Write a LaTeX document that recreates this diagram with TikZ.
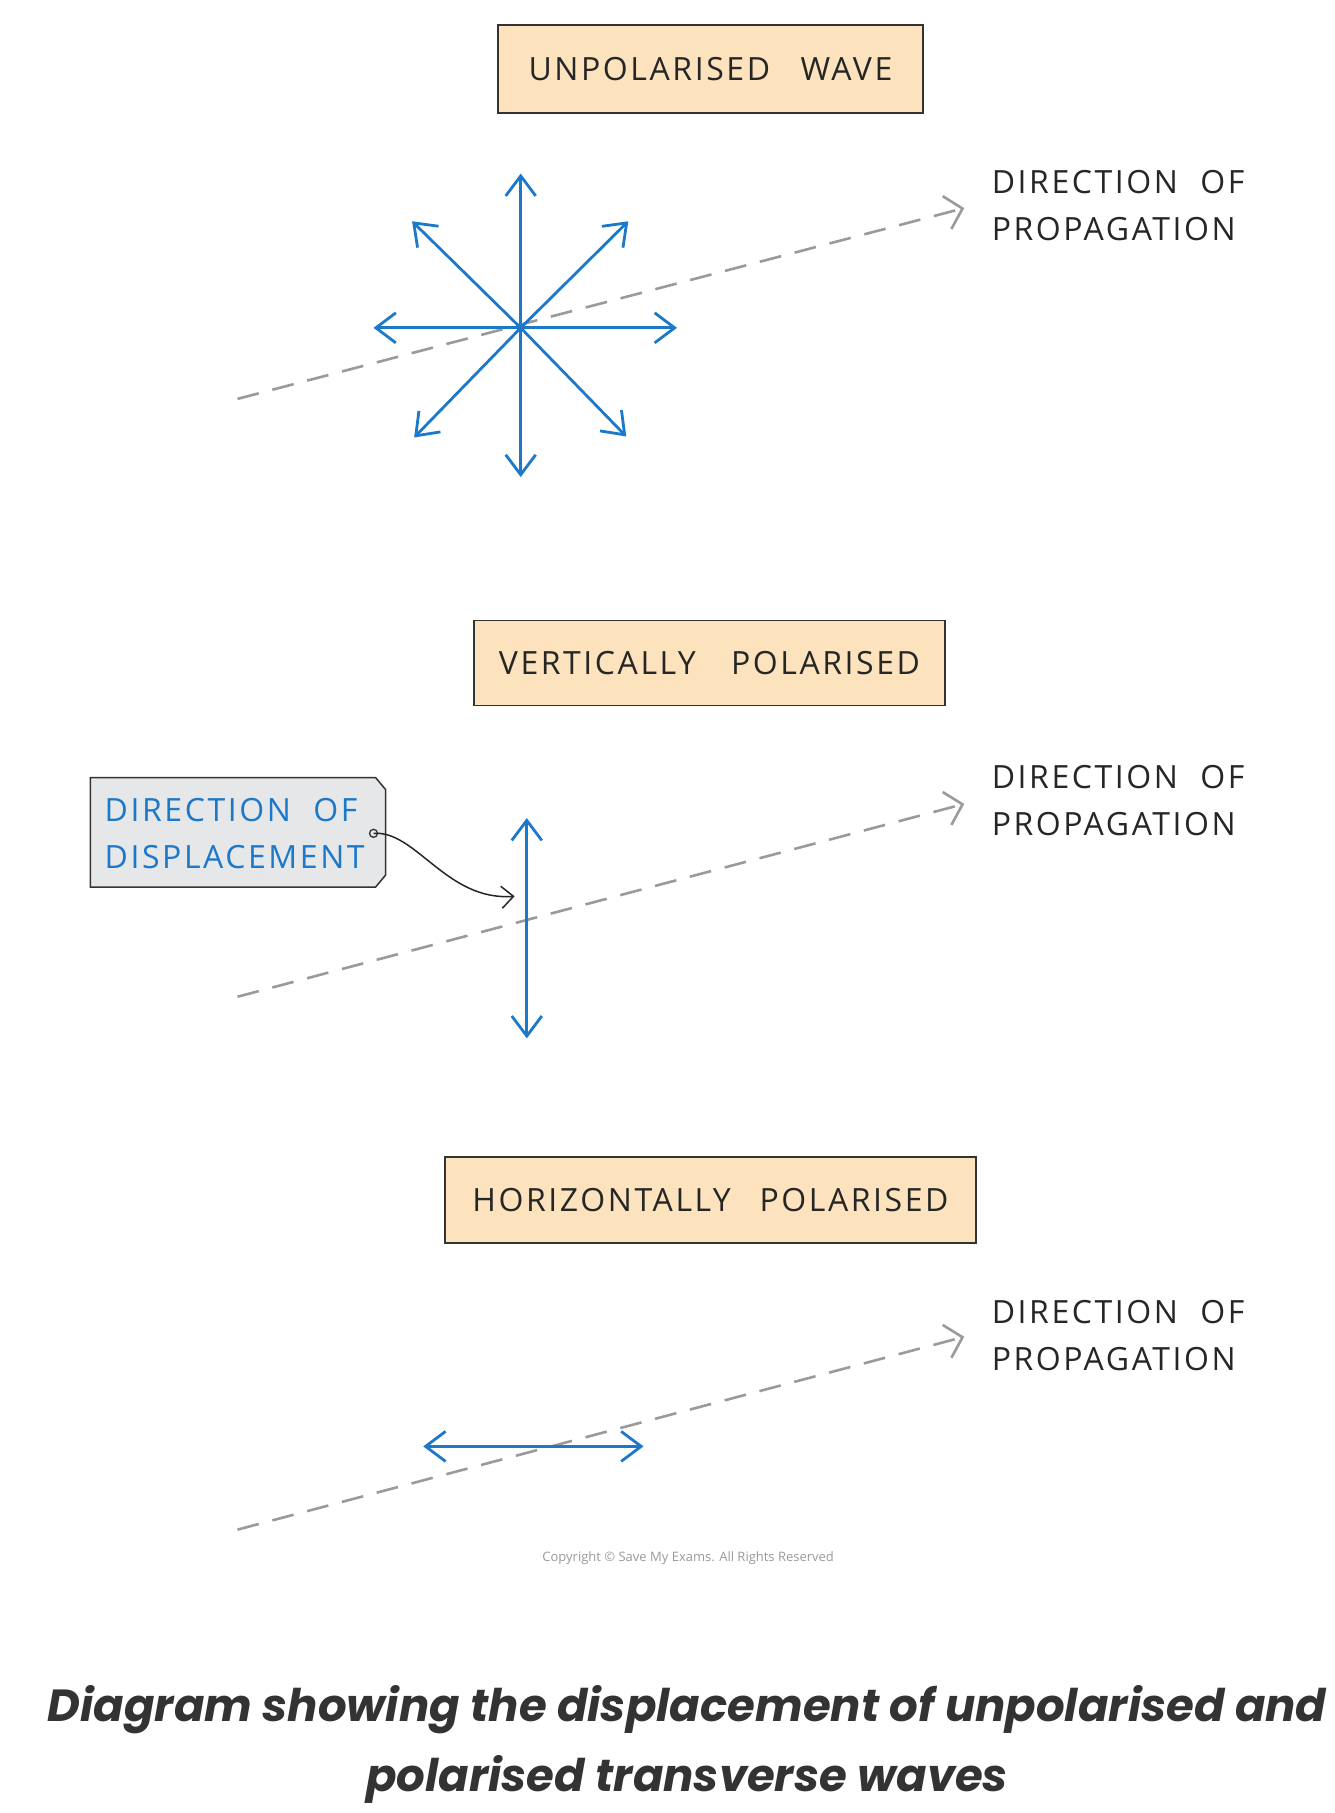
\documentclass[tikz,border=0pt]{standalone}
\usepackage{fontspec}
\usetikzlibrary{arrows.meta}
\newfontfamily\labfont{Open Sans}[LetterSpace=8]
\newfontfamily\copyfont{Open Sans}
\newfontfamily\capfont{Poppins}
\definecolor{peach}{HTML}{FCE3BE}
\definecolor{myblue}{HTML}{1C78C8}
\definecolor{dashgrey}{HTML}{9A9A9A}
\definecolor{taggrey}{HTML}{E6E7E8}
\definecolor{capgrey}{HTML}{333333}
\tikzset{
  titlebox/.style={draw=black!80, line width=1.6pt, fill=peach, font=\labfont\fontsize{32}{36}\selectfont, inner sep=0pt, text=black!85},
  proplabel/.style={font=\labfont\fontsize{32}{47}\selectfont, align=left, anchor=north west, inner sep=0pt, text=black!85},
  proparrow/.style={dashgrey, line width=2.6pt, dash pattern=on 22pt off 14pt, -{Straight Barb[length=16pt,width=34pt,line width=2.6pt]}},
  disparrow/.style={myblue, line width=2.8pt, {Straight Barb[length=20pt,width=30pt]}-{Straight Barb[length=20pt,width=30pt]}},
  halfarrow/.style={myblue, line width=2.8pt, -{Straight Barb[length=20pt,width=30pt]}}
}
\begin{document}
\begin{tikzpicture}[x=1.015pt,y=-1.015pt]
\useasboundingbox (0,0) rectangle (1314.3,1786.2);

% ---------- panel 1 ----------
\node[titlebox, minimum width=425pt, minimum height=88pt] (t1) at (700,68) {UNPOLARISED\hspace{0.95em}WAVE};
\coordinate (p1s) at (234,393);
\coordinate (p1e) at (950,205);
\draw[proparrow] (p1s) -- (p1e);
\node[proplabel] (l1) at (977,168) {DIRECTION\hspace{0.7em}OF\\PROPAGATION};
\coordinate (c1) at (513,323);
\coordinate (n1) at (513,171);
\coordinate (s1) at (513,470);
\coordinate (e1) at (667,323);
\coordinate (w1) at (368,323);
\coordinate (ne1) at (619,218);
\coordinate (nw1) at (406,218);
\coordinate (se1) at (617,430);
\coordinate (sw1) at (408,431);
\foreach \d in {n1,s1,e1,w1,ne1,nw1,se1,sw1} \draw[halfarrow] (c1) -- (\d);

% ---------- panel 2 ----------
\node[titlebox, minimum width=471pt, minimum height=85pt] (t2) at (699,653) {VERTICALLY\hspace{1.1em}POLARISED};
\coordinate (p2s) at (234,982);
\coordinate (p2e) at (950,792);
\draw[proparrow] (p2s) -- (p2e);
\node[proplabel] (l2) at (977,754) {DIRECTION\hspace{0.7em}OF\\PROPAGATION};
\coordinate (v2t) at (519,806);
\coordinate (v2b) at (519,1023);
\draw[disparrow] (v2t) -- (v2b);
% tag
\draw[black!80, line width=1.5pt, fill=taggrey] (89,766) -- (370,766) -- (380,778) -- (380,862) -- (370,874) -- (89,874) -- cycle;
\node[proplabel, text=myblue, anchor=west] (tag) at (103,821) {DIRECTION\hspace{0.7em}OF\\DISPLACEMENT};
\coordinate (hole) at (368,821);
\coordinate (tgt) at (507,883);
\draw[black!80, line width=1.3pt] (hole) circle (4pt);
\draw[black!85, line width=1.5pt, -{Straight Barb[length=12pt,width=22pt]}] (hole) .. controls (410,818) and (440,888) .. (tgt);

% ---------- panel 3 ----------
\node[titlebox, minimum width=531pt, minimum height=86pt] (t3) at (700,1182) {HORIZONTALLY\hspace{0.9em}POLARISED};
\coordinate (p3s) at (234,1507);
\coordinate (p3e) at (950,1317);
\draw[proparrow] (p3s) -- (p3e);
\node[proplabel] (l3) at (977,1281) {DIRECTION\hspace{0.7em}OF\\PROPAGATION};
\coordinate (h3l) at (417,1425);
\coordinate (h3r) at (634,1425);
\draw[disparrow] (h3l) -- (h3r);

\node[font=\copyfont\fontsize{13}{15}\selectfont, text=black!40] (copy) at (678,1535) {Copyright \textcopyright\ Save My Exams. All Rights Reserved};

% ---------- caption ----------
\node[font=\capfont\bfseries\itshape\fontsize{45}{70}\selectfont, text=capgrey, align=center] (cap) at (677,1719) {Diagram showing the displacement of unpolarised and\\polarised transverse waves};
\end{tikzpicture}
\end{document}
